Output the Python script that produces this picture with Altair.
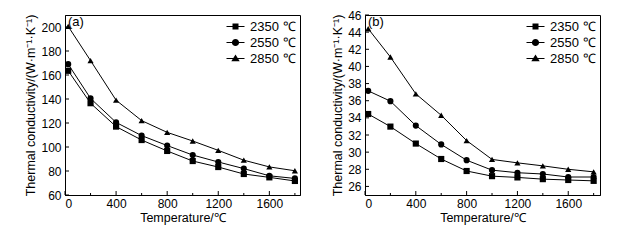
import altair as alt
import pandas as pd

temps = [25, 200, 400, 600, 800, 1000, 1200, 1400, 1600, 1800]
series = ["2350 ℃", "2550 ℃", "2850 ℃"]

a_2350 = [163.5, 136.5, 117.0, 105.8, 96.7, 88.3, 83.3, 77.5, 74.7, 71.7]
a_2550 = [169.0, 140.5, 120.5, 109.5, 101.2, 93.3, 87.5, 82.0, 76.0, 73.8]
a_2850 = [200.5, 172.0, 139.0, 122.0, 112.2, 105.0, 97.2, 89.0, 83.4, 80.2]

b_2350 = [34.45, 32.98, 31.0, 29.2, 27.8, 27.2, 27.05, 26.85, 26.75, 26.65]
b_2550 = [37.15, 35.95, 33.1, 30.9, 29.06, 27.9, 27.6, 27.45, 27.1, 27.1]
b_2850 = [44.4, 41.1, 36.8, 34.3, 31.35, 29.15, 28.75, 28.4, 28.0, 27.7]

x_ticks = [0, 400, 800, 1200, 1600]
x_minor = [200, 600, 1000, 1400, 1800]
a_yticks = [60, 80, 100, 120, 140, 160, 180, 200]
b_yticks = [26, 28, 30, 32, 34, 36, 38, 40, 42, 44, 46]

FONT = "Liberation Sans"
W, H = 235, 180

shape_paths = [
    "M-1.5,-0.09H1.5V0.09H-1.5Z M-0.5,-0.5H0.5V0.5H-0.5Z",
    "M-1.5,-0.09H1.5V0.09H-1.5Z M0.6,0A0.6,0.6,0,1,1,-0.6,0A0.6,0.6,0,1,1,0.6,0Z",
    "M-1.5,-0.09H1.5V0.09H-1.5Z M0,-0.65L0.7,0.45L-0.7,0.45Z",
]


def panel(vals, ydom, yticks, label, xmax, ytitle):
    rows = []
    for s, v in zip(series, vals):
        for t, k in zip(temps, v):
            rows.append({"T": t, "k": k, "series": s})
    df = pd.DataFrame(rows)
    base = alt.Chart(df)
    xscale = alt.Scale(domain=[0, xmax], nice=False, zero=False)
    yscale = alt.Scale(domain=ydom, nice=False, zero=False)
    xaxis = alt.Axis(values=x_ticks, title="Temperature/℃", grid=False, ticks=False,
                     format="d", labelOverlap=False, labelPadding=3, titlePadding=2)
    yaxis = alt.Axis(values=yticks, title=ytitle, grid=False, ticks=False,
                     format="d", labelOverlap=False, labelPadding=4, titlePadding=3)

    def X(f):
        return alt.X(f, scale=xscale, axis=xaxis)

    def Y(f):
        return alt.Y(f, scale=yscale, axis=yaxis)

    lines = base.mark_line(color="black", strokeWidth=1).encode(x=X("T:Q"), y=Y("k:Q"), detail="series:N")
    pts = base.mark_point(filled=True, color="black", size=38, opacity=1).encode(
        x=X("T:Q"), y=Y("k:Q"),
        shape=alt.Shape("series:N", scale=alt.Scale(domain=series, range=["square", "circle", "triangle-up"]),
                        legend=None))
    leg = base.mark_point(filled=True, color="black", opacity=1).transform_filter("datum.T < -1000").encode(
        x=X("T:Q"), y=Y("k:Q"),
        shape=alt.Shape("series:N", scale=alt.Scale(domain=series, range=shape_paths),
                        legend=alt.Legend(orient="none", legendX=164, legendY=5, title=None,
                                          symbolSize=144, symbolFillColor="black",
                                          symbolStrokeWidth=0, labelFont=FONT, labelFontSize=13,
                                          labelOffset=8, rowPadding=2, padding=0,
                                          labelColor="black")))
    txt = alt.Chart(pd.DataFrame({"lab": [label]})).mark_text(
        align="left", baseline="top", font=FONT, fontSize=13, color="black"
    ).encode(x=alt.value(3), y=alt.value(1), text="lab:N")
    xt = alt.Chart(pd.DataFrame({"t": x_ticks})).mark_rule(color="black").encode(
        x=X("t:Q"), y=alt.value(H - 4), y2=alt.value(H))
    xm = alt.Chart(pd.DataFrame({"t": x_minor})).mark_rule(color="black").encode(
        x=X("t:Q"), y=alt.value(H - 2), y2=alt.value(H))
    yt = alt.Chart(pd.DataFrame({"t": yticks})).mark_rule(color="black").encode(
        y=Y("t:Q"), x=alt.value(0), x2=alt.value(4))
    return alt.layer(lines, pts, leg, txt, xt, xm, yt).resolve_scale(shape="independent").properties(
        width=W, height=H)


ytitle = "Thermal conductivity/(W·m⁻¹·K⁻¹)"
left = panel([a_2350, a_2550, a_2850], [60, 210], a_yticks, "(a)", 1840, ytitle)
right = panel([b_2350, b_2550, b_2850], [25, 46], b_yticks, "(b)", 1850, ytitle)

chart = alt.hconcat(left, right, spacing=30).properties(
    padding={"left": 16, "top": 0, "right": 2, "bottom": 2}, background="white"
).configure_view(stroke="black", strokeWidth=1).configure_axis(
    domainColor="black", labelColor="black", titleColor="black",
    labelFont=FONT, titleFont=FONT, labelFontSize=12, titleFontSize=12.5,
    titleFontWeight="normal"
)

chart.save("out.html", embed_options={"renderer": "svg", "actions": False})
